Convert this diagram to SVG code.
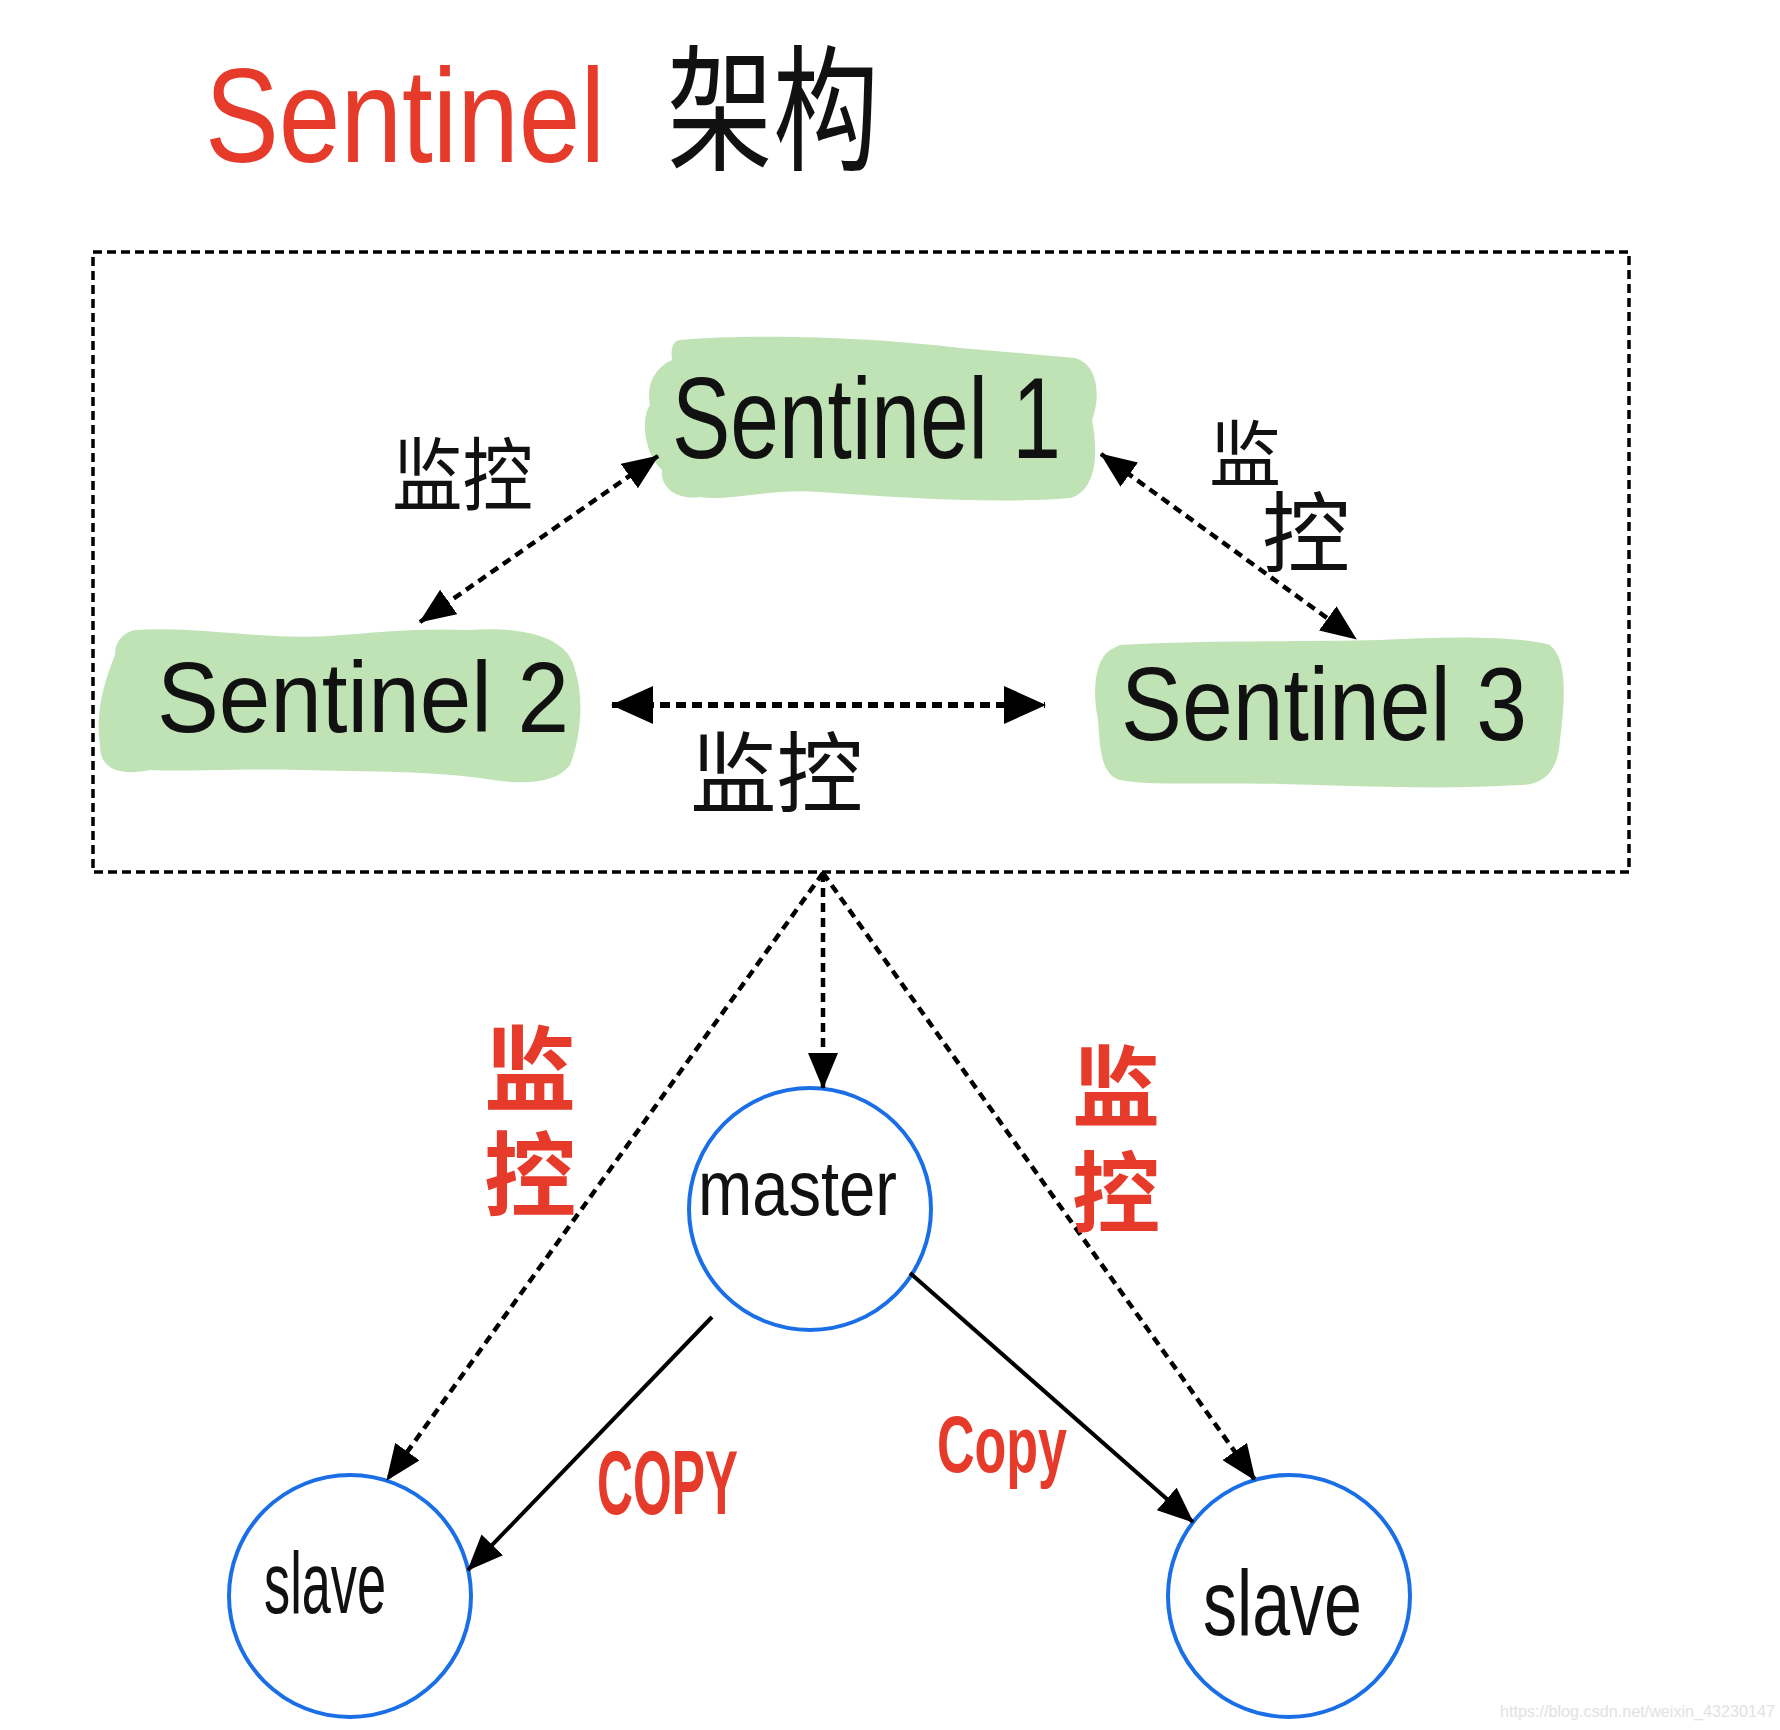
<svg xmlns="http://www.w3.org/2000/svg" width="1780" height="1730" viewBox="0 0 1780 1730">
<style>
.hand{font-family:"Liberation Sans","Noto Sans CJK SC",sans-serif;fill:#111}
.cjk{font-family:"Noto Sans CJK SC","Liberation Sans",sans-serif;fill:#111}
.red{fill:#e63b2b}
.vert{writing-mode:vertical-rl;font-weight:bold}
.blob{fill:#bfe3b5}
.circ{fill:none;stroke:#1a6fe6;stroke-width:4}
.dash{fill:none;stroke:#000;stroke-width:4.5;stroke-dasharray:9 6}
.solid{fill:none;stroke:#000;stroke-width:4}
</style>
<defs>
<marker id="ah" viewBox="0 0 36 30" refX="35" refY="15" markerWidth="36" markerHeight="30" markerUnits="userSpaceOnUse" orient="auto-start-reverse"><path d="M0,0 L36,15 L0,30 Z" fill="#000"/></marker>
<marker id="ahBig" viewBox="0 0 42 38" refX="41" refY="19" markerWidth="42" markerHeight="38" markerUnits="userSpaceOnUse" orient="auto-start-reverse"><path d="M0,0 L42,19 L0,38 Z" fill="#000"/></marker>
</defs>
<rect width="1780" height="1730" fill="#fff"/>

<g id="title">
<text class="hand red" x="205" y="162" font-size="134" textLength="400" lengthAdjust="spacingAndGlyphs">Sentinel</text>
<text class="cjk" x="667" y="160" font-size="136" textLength="212" lengthAdjust="spacingAndGlyphs">架构</text>
</g>

<g id="sentinel-cluster">
<rect x="93" y="252" width="1536" height="620" fill="none" stroke="#000" stroke-width="3.5" stroke-dasharray="9 5"/>
</g>

<g id="sentinel1">
<path class="blob" d="M680,340 C760,333 880,338 960,348 L1075,358 C1100,365 1100,400 1092,420 C1098,450 1098,490 1070,498 C1000,504 900,498 820,492 C770,488 730,502 700,497 C680,500 660,490 662,470 C645,455 640,420 650,405 C645,380 660,365 672,360 C670,345 675,341 680,340 Z"/>
<text class="hand" x="672" y="458" font-size="115" textLength="389" lengthAdjust="spacingAndGlyphs">Sentinel 1</text>
</g>

<g id="sentinel2">
<path class="blob" d="M135,630 C200,626 260,640 330,636 C380,632 420,628 470,630 C530,626 570,640 575,670 C585,700 580,740 570,765 C555,785 520,785 480,778 C420,770 360,772 300,770 C240,768 190,772 150,770 C120,776 100,770 100,745 C95,710 105,680 115,655 C115,640 125,632 135,630 Z"/>
<text class="hand" x="157" y="732" font-size="100" textLength="412" lengthAdjust="spacingAndGlyphs">Sentinel 2</text>
</g>

<g id="sentinel3">
<path class="blob" d="M1120,645 C1200,640 1300,642 1380,640 C1450,636 1520,636 1550,645 C1568,660 1565,700 1560,740 C1558,770 1545,785 1520,785 C1440,790 1360,786 1280,784 C1210,782 1150,786 1120,780 C1100,775 1100,745 1098,720 C1092,690 1095,660 1110,650 Z"/>
<text class="hand" x="1121" y="740" font-size="104" textLength="406" lengthAdjust="spacingAndGlyphs">Sentinel 3</text>
</g>

<g id="master">
<circle class="circ" cx="810" cy="1209" r="121"/>
<text class="hand" x="698" y="1215" font-size="78" textLength="199" lengthAdjust="spacingAndGlyphs">master</text>
</g>

<g id="slave-left">
<circle class="circ" cx="350" cy="1596" r="121"/>
<text class="hand" x="264" y="1613" font-size="88" textLength="122" lengthAdjust="spacingAndGlyphs">slave</text>
</g>

<g id="slave-right">
<circle class="circ" cx="1289" cy="1596" r="121"/>
<text class="hand" x="1203" y="1635" font-size="92" textLength="159" lengthAdjust="spacingAndGlyphs">slave</text>
</g>

<g id="connectors">
<line class="dash" x1="658" y1="456" x2="420" y2="622" marker-start="url(#ah)" marker-end="url(#ah)"/>
<line class="dash" x1="1101" y1="454" x2="1356" y2="639" marker-start="url(#ah)" marker-end="url(#ah)"/>
<line class="dash" x1="612" y1="705" x2="1045" y2="705" style="stroke-width:6;stroke-dasharray:10 6" marker-start="url(#ahBig)" marker-end="url(#ahBig)"/>
<line class="dash" x1="823" y1="873" x2="823" y2="1088" marker-end="url(#ah)"/>
<line class="dash" x1="823" y1="873" x2="387" y2="1480" marker-end="url(#ah)"/>
<line class="dash" x1="823" y1="873" x2="1255" y2="1480" marker-end="url(#ah)"/>
<line class="solid" x1="712" y1="1317" x2="468" y2="1570" marker-end="url(#ah)"/>
<line class="solid" x1="910" y1="1273" x2="1193" y2="1522" marker-end="url(#ah)"/>
</g>

<g id="labels">
<text class="cjk" x="392" y="504" font-size="80" textLength="141" lengthAdjust="spacingAndGlyphs">监控</text>
<text class="cjk"><tspan x="1209" y="480" font-size="72">监</tspan><tspan x="1262" y="565" font-size="88">控</tspan></text>
<text class="cjk" x="690" y="805" font-size="88" textLength="173" lengthAdjust="spacingAndGlyphs">监控</text>
<text class="cjk red vert" x="530" y="1022" font-size="92" letter-spacing="14">监控</text>
<text class="cjk red vert" x="1116" y="1042" font-size="88" letter-spacing="18">监控</text>
<text class="hand red" x="597" y="1514" font-size="90" font-weight="bold" textLength="141" lengthAdjust="spacingAndGlyphs">COPY</text>
<text class="hand red" x="937" y="1472" font-size="80" font-weight="bold" textLength="130" lengthAdjust="spacingAndGlyphs">Copy</text>
</g>

<text x="1500" y="1717" font-family="Liberation Sans, sans-serif" font-size="16" fill="#e2e2e2" textLength="275" lengthAdjust="spacingAndGlyphs">https://blog.csdn.net/weixin_43230147</text>
</svg>
